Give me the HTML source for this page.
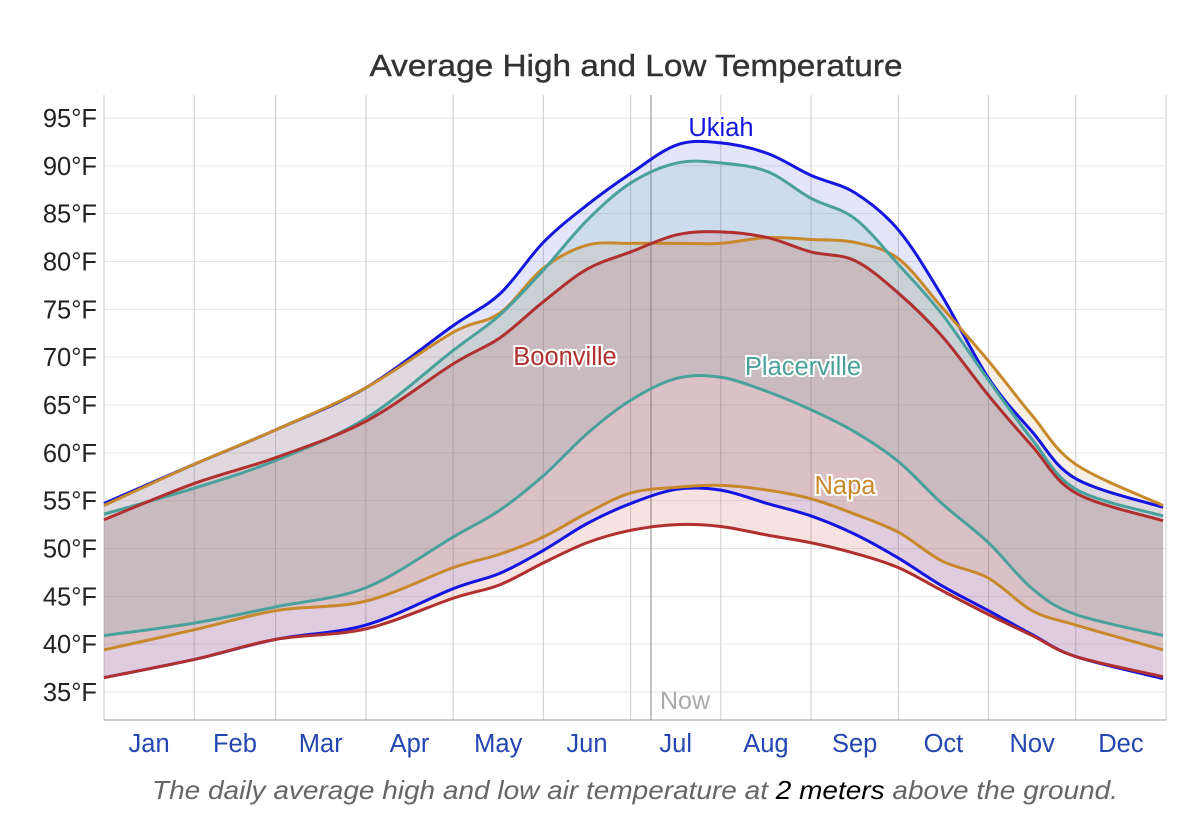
<!DOCTYPE html>
<html><head><meta charset="utf-8"><style>
body{margin:0;background:#fff;}
svg{display:block;font-family:"Liberation Sans",Arial,sans-serif;}
</style></head><body>
<svg id="chart" width="1196" height="832" viewBox="0 0 1196 832" xmlns="http://www.w3.org/2000/svg">
<text x="636" y="76" text-anchor="middle" font-size="31" fill="#333" stroke="#333" stroke-width="0.4" textLength="533" lengthAdjust="spacingAndGlyphs">Average High and Low Temperature</text>
<g id="grid"></g><g id="bands"></g><g id="lines"></g><g id="labels"></g>
<text x="635" y="799" text-anchor="middle" font-size="26" font-style="italic" fill="#666" textLength="966" lengthAdjust="spacingAndGlyphs">The daily average high and low air temperature at <tspan fill="#000">2 meters</tspan> above the ground.</text>
</svg>
<script>
const days=[0,31,59,90,120,136,151,166,181,197,212,228,243,258,273,288,304,319,334,364];
const months=["Jan","Feb","Mar","Apr","May","Jun","Jul","Aug","Sep","Oct","Nov","Dec"];
const monthStarts=[0,31,59,90,120,151,181,212,243,273,304,334,365];
const yTicks=[35,40,45,50,55,60,65,70,75,80,85,90,95];
const nowDay=188;
const ukiahHigh=[54.7,58.8,62.4,66.8,73.3,76.6,82,85.9,89.2,92.2,92.4,91.3,89,87.2,83.3,76.4,67.8,62.2,57.3,54.3];
const ukiahLow=[36.5,38.4,40.5,42,45.8,47.4,49.8,52.6,54.7,56.2,56.1,54.7,53.4,51.5,49,46.1,43.5,41,38.7,36.4];
const boonHigh=[53,56.8,59.5,63.3,69.3,72,75.8,79.2,81,82.8,83.1,82.5,81,80.1,76.7,72.2,66,60.7,55.8,52.9];
const boonLow=[36.5,38.4,40.5,41.6,44.8,46.2,48.5,50.6,51.9,52.5,52.3,51.4,50.6,49.5,48,45.6,43.1,40.9,38.7,36.6];
const placHigh=[53.6,56.3,59.2,63.6,70.7,74.4,79.1,84.3,88.2,90.3,90.3,89.4,86.6,84.5,79.7,74.5,67.6,61.4,56.2,53.4];
const placLow=[40.9,42.2,43.9,45.9,51.2,54,57.6,62,65.5,67.8,67.9,66.4,64.5,62.2,59.1,54.7,50.6,45.8,43.1,40.9];
const napaHigh=[54.5,58.8,62.4,66.8,72.6,74.6,79.3,81.7,81.9,81.9,81.9,82.5,82.3,82,80.3,75.2,69.6,63.9,58.8,54.5];
const napaLow=[39.4,41.5,43.5,44.5,48,49.4,51.2,53.7,55.8,56.4,56.6,56.1,55.2,53.6,51.7,48.7,46.9,43.5,42,39.4];

const X0=104,X1=1166;
const xs=d=>X0+(X1-X0)*d/365;
const ys=t=>692-(t-35)*(574/60);
const NS="http://www.w3.org/2000/svg";
function mk(tag,attrs,parent){const e=document.createElementNS(NS,tag);for(const k in attrs)e.setAttribute(k,attrs[k]);parent.appendChild(e);return e;}
function pts(vals){return days.map((d,i)=>[xs(d),ys(vals[i])]);}
function smooth(p){let s="";for(let i=0;i<p.length-1;i++){const p0=p[i-1]||p[i],p1=p[i],p2=p[i+1],p3=p[i+2]||p2;
const c1=[p1[0]+(p2[0]-p0[0])/6,p1[1]+(p2[1]-p0[1])/6],c2=[p2[0]-(p3[0]-p1[0])/6,p2[1]-(p3[1]-p1[1])/6];
s+=` C${c1[0]},${c1[1]} ${c2[0]},${c2[1]} ${p2[0]},${p2[1]}`;}return s;}
const grid=document.getElementById('grid');
yTicks.forEach(t=>{
 const l=mk('line',{x1:X0,x2:X1,y1:ys(t),y2:ys(t),stroke:'#e6e6e6','stroke-width':1},grid);
 
 const tx=mk('text',{x:97,y:ys(t)+9,'text-anchor':'end','font-size':25.5,fill:'#222'},grid);tx.textContent=t+"°F";
 
});
monthStarts.forEach((d,i)=>{
 const l=mk('line',{x1:xs(d),x2:xs(d),y1:95,y2:720,stroke:'#ccc','stroke-width':1},grid);
 
 if(i<12){const tx=mk('text',{x:(xs(d)+xs(monthStarts[i+1]))/2,y:752,'text-anchor':'middle','font-size':25.5,fill:'#2346b0'},grid);tx.textContent=months[i];
 }
});
const ax=mk('line',{x1:X0,x2:X1,y1:720,y2:720,stroke:'#999','stroke-width':1},grid);

const nl=mk('line',{x1:xs(nowDay),x2:xs(nowDay),y1:95,y2:720,stroke:'#888','stroke-width':1},grid);

const nt=mk('text',{x:xs(nowDay)+34,y:709,'text-anchor':'middle','font-size':25,fill:'#aaa'},grid);nt.textContent="Now";


const series=[
 ["ukiah",ukiahHigh,ukiahLow,"#1515e0","rgba(60,80,230,0.14)"],
 ["napa",napaHigh,napaLow,"#c8892c","rgba(200,140,60,0.14)"],
 ["placerville",placHigh,placLow,"#4aa19c","rgba(70,160,155,0.14)"],
 ["boonville",boonHigh,boonLow,"#b03030","rgba(200,50,50,0.14)"]];
const bands=document.getElementById('bands'),lines=document.getElementById('lines');
series.forEach(([n,h,lo,c,f])=>{
 const ph=pts(h),pl=pts(lo).reverse();
 const d=`M${ph[0][0]},${ph[0][1]}`+smooth(ph)+` L${pl[0][0]},${pl[0][1]}`+smooth(pl)+"Z";
 const b=mk('path',{d:d,fill:f},bands);
 
 [["high",ph],["low",pts(lo)]].forEach(([k,p])=>{
  const l=mk('path',{d:`M${p[0][0]},${p[0][1]}`+smooth(p),fill:'none',stroke:c,'stroke-width':3},lines);
  
 });
});
const labs=[["Ukiah",721,136,"#1515e0"],["Boonville",565,365,"#b03030"],["Placerville",803,375,"#4aa19c"],["Napa",845,494,"#c8892c"]];
const lg=document.getElementById('labels');
labs.forEach(([t,x,y,c])=>{
 const e=mk('text',{x:x,y:y,'text-anchor':'middle','font-size':25.5,fill:c,stroke:'#fff','stroke-width':4,'paint-order':'stroke'},lg);e.textContent=t;
 
});
</script>
</body></html>
